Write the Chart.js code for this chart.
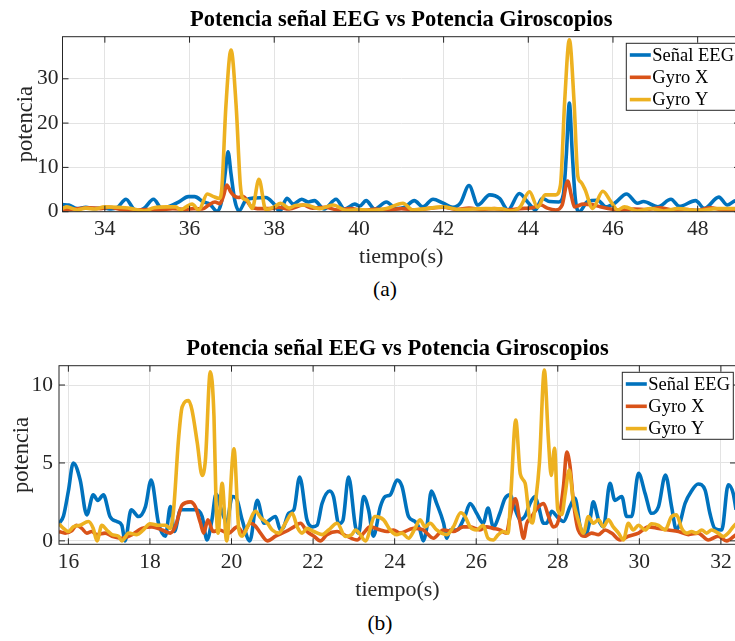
<!DOCTYPE html>
<html>
<head>
<meta charset="utf-8">
<script src="https://cdn.jsdelivr.net/npm/chart.js@4.4.1/dist/chart.umd.min.js"></script>
<style>
  html, body { margin: 0; padding: 0; background: #fff; overflow: hidden; }
  body { width: 735px; height: 641px; position: relative; }
  .panel { position: absolute; left: 0; width: 745px; }
  #panelA { top: 0; height: 272px; }
  #panelB { top: 320px; height: 282px; }
  .caption { position: absolute; width: 100px; text-align: center; font: 21.5px 'Liberation Serif', serif; line-height: 24px; color: #000; }
</style>
</head>
<body>
<div class="panel" id="panelA"><canvas id="chartA"></canvas></div>
<div class="panel" id="panelB"><canvas id="chartB"></canvas></div>
<div class="caption" style="left:335px; top:277px;">(a)</div>
<div class="caption" style="left:330px; top:611px;">(b)</div>
<script>
const seriesNames = ['Señal EEG', 'Gyro X', 'Gyro Y'];
const seriesColors = ['#0072BD', '#D95319', '#EDB120'];

// panel (a): 33 s - 49 s
const xTicksA = [34, 36, 38, 40, 42, 44, 46, 48];
const yTicksA = [0, 10, 20, 30];

const eegA = [[33.0,1.6],[33.15,1.5],[33.35,0.7],[33.55,1.0],[33.75,0.7],[33.95,0.9],[34.15,0.6],[34.3,1.0],[34.5,2.8],[34.68,0.6],[34.78,0.15],[34.92,0.7],[35.15,2.8],[35.35,0.7],[35.55,1.3],[35.75,2.2],[35.97,3.4],[36.12,3.4],[36.33,2.2],[36.48,1.7],[36.65,0.1],[36.76,2.5],[36.84,8.5],[36.91,13.5],[36.98,8.5],[37.07,2.5],[37.17,0.2],[37.33,2.6],[37.55,3.1],[37.8,3.2],[37.98,1.9],[38.13,0.1],[38.3,3.0],[38.45,1.7],[38.65,2.8],[38.8,2.2],[38.95,2.5],[39.18,0.6],[39.46,2.8],[39.66,0.6],[39.9,1.7],[40.02,1.3],[40.17,2.5],[40.37,0.6],[40.65,2.2],[40.88,0.7],[41.08,1.0],[41.31,2.5],[41.51,1.1],[41.75,2.8],[41.98,2.0],[42.22,1.0],[42.4,2.0],[42.6,5.9],[42.81,1.5],[43.09,3.8],[43.32,3.0],[43.52,0.4],[43.79,4.1],[44.0,2.0],[44.17,0.4],[44.33,3.0],[44.5,2.3],[44.72,2.2],[44.83,4.0],[44.9,13.0],[44.97,24.5],[45.04,13.0],[45.11,3.0],[45.2,0.0],[45.4,2.3],[45.64,2.6],[45.83,1.1],[46.05,2.0],[46.32,4.0],[46.58,1.9],[46.72,2.3],[47.06,1.1],[47.37,2.8],[47.57,1.2],[47.95,2.5],[48.16,0.75],[48.5,3.3],[48.7,1.5],[48.9,2.5],[49.0,2.2]];

const gyroXA = [[33.0,0.4],[33.3,0.6],[33.6,0.9],[33.9,0.7],[34.1,1.0],[34.4,0.5],[34.7,0.4],[35.0,0.5],[35.3,0.4],[35.6,0.7],[35.9,0.5],[36.1,0.7],[36.3,0.6],[36.45,1.5],[36.6,2.2],[36.72,1.8],[36.8,3.5],[36.88,6.0],[36.97,4.5],[37.05,3.6],[37.15,3.2],[37.27,3.4],[37.45,1.2],[37.6,0.7],[37.9,0.7],[38.1,1.0],[38.35,0.6],[38.68,1.5],[38.9,0.8],[39.2,1.0],[39.5,0.4],[39.8,0.7],[40.1,0.3],[40.4,0.6],[40.7,0.4],[41.0,0.7],[41.3,0.4],[41.6,0.7],[42.0,1.0],[42.3,0.5],[42.6,0.8],[42.9,0.5],[43.2,0.7],[43.5,0.4],[43.8,0.7],[44.1,0.9],[44.3,1.5],[44.45,0.8],[44.65,0.4],[44.8,1.5],[44.93,6.9],[45.02,3.5],[45.09,1.1],[45.3,1.7],[45.5,1.6],[45.7,1.1],[45.95,0.6],[46.2,0.4],[46.5,0.6],[46.8,0.5],[47.1,0.9],[47.4,0.4],[47.75,0.5],[48.0,0.3],[48.3,0.9],[48.6,0.4],[49.0,0.5]];

const gyroYA = [[33.0,0.75],[33.1,1.1],[33.35,0.4],[33.55,0.8],[33.75,0.6],[34.0,1.1],[34.3,1.0],[34.6,0.75],[34.92,0.15],[35.16,0.9],[35.47,1.1],[35.67,1.1],[35.79,0.4],[35.92,1.1],[36.06,1.7],[36.22,0.4],[36.42,4.0],[36.57,3.4],[36.7,3.0],[36.76,5.0],[36.86,24.0],[36.98,36.5],[37.1,24.0],[37.2,6.0],[37.26,3.0],[37.36,2.6],[37.48,0.75],[37.64,7.3],[37.8,0.5],[38.0,1.1],[38.15,1.9],[38.35,0.8],[38.5,1.4],[38.75,1.5],[39.07,0.7],[39.39,1.5],[39.7,0.3],[40.0,0.5],[40.33,0.3],[40.65,0.7],[41.04,1.9],[41.27,0.4],[41.6,0.7],[41.98,1.1],[42.38,0.5],[43.0,0.7],[43.4,0.6],[43.56,0.15],[43.8,1.0],[44.03,4.5],[44.22,1.0],[44.4,3.8],[44.65,3.8],[44.76,6.0],[44.86,25.0],[44.97,38.8],[45.08,25.0],[45.17,8.0],[45.24,6.7],[45.34,5.0],[45.52,0.75],[45.76,4.6],[45.95,2.3],[46.11,0.4],[46.27,1.1],[46.58,0.15],[46.9,0.7],[47.2,0.15],[47.53,0.7],[48.0,0.3],[48.47,0.7],[48.87,0.7],[49.0,0.6]];

// panel (b): 15.8 s - 32.4 s
const xTicksB = [16, 18, 20, 22, 24, 26, 28, 30, 32];
const yTicksB = [0, 5, 10];

const eegB = [[15.77,1.1],[15.88,1.6],[16.0,3.2],[16.12,5.0],[16.29,3.9],[16.45,1.67],[16.61,2.95],[16.72,2.6],[16.86,2.95],[17.02,1.56],[17.19,1.24],[17.31,1.0],[17.39,0.0],[17.54,2.0],[17.72,1.56],[17.89,2.2],[18.03,3.9],[18.21,1.13],[18.38,0.3],[18.5,2.2],[18.6,0.6],[18.75,2.0],[18.95,2.0],[19.11,2.0],[19.28,1.56],[19.4,0.06],[19.52,1.35],[19.62,3.0],[19.75,2.0],[19.88,1.2],[20.02,2.85],[20.14,2.6],[20.26,1.35],[20.45,0.0],[20.63,2.6],[20.8,1.13],[21.08,1.56],[21.2,0.7],[21.28,0.9],[21.4,1.77],[21.53,2.0],[21.67,4.1],[21.85,1.35],[21.98,0.9],[22.1,1.0],[22.22,2.4],[22.41,3.2],[22.5,2.85],[22.63,1.1],[22.73,1.3],[22.87,4.1],[23.04,0.9],[23.12,0.5],[23.24,2.85],[23.36,2.0],[23.48,0.3],[23.65,2.2],[23.77,2.85],[23.89,2.95],[24.06,3.9],[24.18,3.5],[24.34,1.56],[24.5,1.24],[24.62,0.7],[24.7,0.0],[24.79,0.9],[24.9,3.2],[25.03,2.4],[25.2,1.13],[25.28,0.17],[25.36,0.7],[25.52,0.7],[25.72,1.56],[25.85,2.4],[26.01,1.77],[26.17,1.13],[26.29,2.1],[26.42,0.9],[26.58,1.77],[26.7,2.7],[26.83,2.95],[26.96,2.0],[27.08,1.35],[27.2,1.6],[27.32,2.4],[27.44,2.85],[27.53,2.2],[27.65,1.13],[27.73,1.13],[27.85,1.9],[27.98,1.56],[28.14,1.24],[28.3,2.2],[28.42,2.75],[28.55,0.9],[28.67,0.3],[28.79,1.35],[28.87,2.5],[29.0,1.35],[29.12,0.9],[29.28,3.7],[29.4,2.6],[29.57,2.85],[29.69,1.56],[29.81,1.56],[29.98,4.34],[30.14,3.05],[30.3,1.77],[30.47,2.2],[30.64,4.23],[30.79,2.2],[30.91,0.7],[30.99,1.1],[31.12,2.4],[31.28,3.2],[31.44,3.65],[31.61,3.27],[31.73,1.77],[31.85,0.8],[32.02,0.7],[32.18,3.6],[32.3,3.05],[32.37,2.0]];

const gyroXB = [[15.77,0.6],[15.92,0.5],[16.08,0.65],[16.2,1.0],[16.33,0.8],[16.45,0.5],[16.57,0.6],[16.7,0.4],[16.9,0.5],[17.07,0.3],[17.31,0.17],[17.56,0.4],[17.8,0.8],[18.05,0.9],[18.3,0.7],[18.5,0.5],[18.62,0.9],[18.79,2.3],[18.99,2.5],[19.11,2.2],[19.24,1.13],[19.32,0.5],[19.42,1.35],[19.55,0.6],[19.7,0.7],[19.93,0.5],[20.14,0.9],[20.3,0.5],[20.45,1.13],[20.57,1.0],[20.71,0.5],[20.88,0.0],[21.08,0.3],[21.33,0.6],[21.53,0.9],[21.69,1.13],[21.85,0.6],[22.02,0.3],[22.18,0.0],[22.34,0.4],[22.59,0.6],[22.83,0.3],[23.08,0.06],[23.24,0.5],[23.4,0.9],[23.65,0.7],[23.81,0.6],[23.97,0.7],[24.13,0.5],[24.46,0.8],[24.7,0.7],[24.95,0.17],[25.19,0.7],[25.44,0.6],[25.68,0.9],[25.85,0.9],[26.09,0.7],[26.25,0.9],[26.42,0.8],[26.58,0.7],[26.74,0.5],[26.83,1.56],[26.96,2.7],[27.08,1.1],[27.16,0.17],[27.24,1.13],[27.36,1.56],[27.53,2.2],[27.65,2.4],[27.77,1.6],[27.89,0.9],[28.02,1.35],[28.14,3.5],[28.22,5.7],[28.3,4.8],[28.38,2.6],[28.5,0.7],[28.67,0.3],[28.83,0.5],[29.0,0.4],[29.16,0.7],[29.32,0.5],[29.53,0.06],[29.73,0.3],[29.98,0.5],[30.22,0.9],[30.47,0.8],[30.71,0.7],[30.96,0.6],[31.2,0.4],[31.44,0.5],[31.69,0.06],[31.93,0.3],[32.14,0.0],[32.37,0.4]];

const gyroYB = [[15.77,1.1],[15.88,0.8],[16.0,0.6],[16.12,0.9],[16.29,1.0],[16.49,1.24],[16.61,0.8],[16.7,0.0],[16.82,1.0],[16.94,0.7],[17.07,0.4],[17.23,0.3],[17.31,0.0],[17.48,0.5],[17.68,0.4],[17.84,0.7],[18.0,1.1],[18.21,1.0],[18.38,1.0],[18.5,0.8],[18.58,2.0],[18.7,6.5],[18.79,8.6],[18.95,9.0],[19.03,8.4],[19.16,6.3],[19.28,4.2],[19.36,5.2],[19.48,10.85],[19.57,8.0],[19.62,2.5],[19.67,0.5],[19.77,3.7],[19.88,0.0],[20.06,5.9],[20.18,0.7],[20.26,0.3],[20.39,0.9],[20.59,1.9],[20.71,1.5],[20.88,1.13],[21.0,0.7],[21.16,0.5],[21.32,1.13],[21.49,1.77],[21.61,0.9],[21.73,0.5],[21.85,0.8],[22.02,0.6],[22.22,0.4],[22.38,0.7],[22.59,1.13],[22.79,0.28],[22.95,0.4],[23.04,0.7],[23.16,0.4],[23.28,0.0],[23.52,1.56],[23.73,1.35],[23.89,0.7],[24.05,0.4],[24.18,0.5],[24.34,0.17],[24.5,0.8],[24.62,1.35],[24.75,0.9],[24.87,1.13],[25.03,0.7],[25.15,0.5],[25.28,0.4],[25.44,0.9],[25.62,1.8],[25.72,1.6],[25.85,0.9],[26.01,0.7],[26.17,1.0],[26.29,0.17],[26.42,0.06],[26.54,0.4],[26.66,0.6],[26.78,0.5],[26.85,3.0],[26.97,7.75],[27.08,4.3],[27.2,3.7],[27.3,1.56],[27.38,1.15],[27.45,2.4],[27.55,5.0],[27.67,10.96],[27.77,6.5],[27.84,4.2],[27.92,5.94],[28.0,2.0],[28.1,1.7],[28.18,3.0],[28.28,4.55],[28.38,2.6],[28.5,1.35],[28.63,0.5],[28.75,1.56],[28.87,1.13],[29.0,1.35],[29.12,0.9],[29.24,1.35],[29.36,0.9],[29.49,0.5],[29.61,0.06],[29.73,1.13],[29.85,0.7],[29.98,1.0],[30.14,0.7],[30.3,1.1],[30.47,1.0],[30.63,0.7],[30.79,1.56],[30.91,1.67],[31.04,0.8],[31.16,0.5],[31.28,0.6],[31.4,0.5],[31.53,0.7],[31.65,0.5],[31.77,0.7],[31.93,0.5],[32.06,0.28],[32.18,0.5],[32.3,0.9],[32.37,1.1]];

const FONT = "'Liberation Serif', 'Times New Roman', serif";
const AXIS_INK = '#262626';
const LINE_W = 3.6;

// box, inward ticks, title, axis labels and legend drawn the MATLAB way
const figureDecor = {
  id: 'figureDecor',
  afterDraw(chart, args, o) {
    const { ctx, chartArea: a, scales: { x, y } } = chart;
    const cx = (a.left + a.right) / 2;
    ctx.save();

    ctx.strokeStyle = AXIS_INK;
    ctx.lineWidth = 1;
    ctx.beginPath();
    x.ticks.forEach(t => {
      const px = x.getPixelForValue(t.value);
      ctx.moveTo(px, a.top); ctx.lineTo(px, a.top + 6);
      ctx.moveTo(px, a.bottom); ctx.lineTo(px, a.bottom - 6);
    });
    y.ticks.forEach(t => {
      const py = y.getPixelForValue(t.value);
      ctx.moveTo(a.left, py); ctx.lineTo(a.left + 6, py);
      ctx.moveTo(a.right, py); ctx.lineTo(a.right - 6, py);
    });
    ctx.stroke();
    ctx.strokeRect(a.left, a.top, a.right - a.left, a.bottom - a.top);

    ctx.textAlign = 'center';
    ctx.textBaseline = 'alphabetic';
    ctx.fillStyle = '#000';
    ctx.font = 'bold 22.5px ' + FONT;
    ctx.fillText(o.title, cx, o.titleY);

    ctx.fillStyle = AXIS_INK;
    ctx.font = '22px ' + FONT;
    ctx.fillText('tiempo(s)', cx, o.xLabelY);
    ctx.save();
    ctx.translate(o.yLabelX, (a.top + a.bottom) / 2);
    ctx.rotate(-Math.PI / 2);
    ctx.textBaseline = 'middle';
    ctx.font = '22.5px ' + FONT;
    ctx.fillText('potencia', 0, 0);
    ctx.restore();

    // legend box
    const bw = 111, bh = 67;
    const bx = a.right - 2.7 - bw, by = a.top + 6.6;
    ctx.fillStyle = '#fff';
    ctx.fillRect(bx, by, bw, bh);
    ctx.strokeStyle = AXIS_INK;
    ctx.lineWidth = 1;
    ctx.strokeRect(bx, by, bw, bh);
    ctx.font = '18.5px ' + FONT;
    ctx.textAlign = 'left';
    ctx.textBaseline = 'middle';
    chart.data.datasets.forEach((ds, i) => {
      const ly = by + 11.7 + i * 22.3;
      ctx.strokeStyle = ds.borderColor;
      ctx.lineWidth = LINE_W;
      ctx.beginPath();
      ctx.moveTo(bx + 3.5, ly);
      ctx.lineTo(bx + 24.5, ly);
      ctx.stroke();
      ctx.fillStyle = '#000';
      ctx.fillText(ds.label, bx + 26, ly + 1);
    });
    ctx.restore();
  }
};

function makeDatasets(series) {
  return series.map((pts, i) => ({
    label: seriesNames[i],
    data: pts.map(([t, v]) => ({ x: t, y: v })),
    borderColor: seriesColors[i],
    borderWidth: LINE_W,
    pointRadius: 0,
    cubicInterpolationMode: 'monotone',
    order: 3 - i
  }));
}

function makeChart(id, cfg) {
  const tickFont = { family: FONT, size: 21.5 };
  return new Chart(document.getElementById(id), {
    type: 'line',
    data: { datasets: makeDatasets(cfg.series) },
    options: {
      responsive: true,
      maintainAspectRatio: false,
      animation: false,
      layout: { padding: cfg.padding },
      plugins: {
        legend: { display: false },
        tooltip: { enabled: false },
        figureDecor: cfg.decor
      },
      scales: {
        x: {
          type: 'linear',
          min: cfg.xMin, max: cfg.xMax,
          afterBuildTicks: s => { s.ticks = cfg.xTicks.map(v => ({ value: v })); },
          afterFit: s => { s.height = 30; },
          grid: { color: '#e3e3e3', drawTicks: false },
          border: { display: false },
          ticks: { color: AXIS_INK, font: tickFont, padding: 5, maxRotation: 0, autoSkip: false }
        },
        y: {
          min: cfg.yMin, max: cfg.yMax,
          afterBuildTicks: s => { s.ticks = cfg.yTicks.map(v => ({ value: v })); },
          afterFit: s => { s.width = cfg.yWidth; },
          grid: { color: '#e3e3e3', drawTicks: false },
          border: { display: false },
          ticks: { color: AXIS_INK, font: tickFont, padding: cfg.yPad }
        }
      }
    },
    plugins: [figureDecor]
  });
}

makeChart('chartA', {
  series: [eegA, gyroXA, gyroYA],
  xMin: 33, xMax: 49, xTicks: xTicksA,
  yMin: 0, yMax: 39.5, yTicks: yTicksA,
  yWidth: 62.5, yPad: 4,
  padding: { top: 36.7, right: 5, bottom: 30.3, left: 0 },
  decor: { title: 'Potencia señal EEG vs Potencia Giroscopios', titleY: 26, xLabelY: 263, yLabelX: 26 }
});

makeChart('chartB', {
  series: [eegB, gyroXB, gyroYB],
  xMin: 15.77, xMax: 32.37, xTicks: xTicksB,
  yMin: -0.22, yMax: 11.24, yTicks: yTicksB,
  yWidth: 59, yPad: 6,
  padding: { top: 45.7, right: 9, bottom: 27.7, left: 0 },
  decor: { title: 'Potencia señal EEG vs Potencia Giroscopios', titleY: 35, xLabelY: 276, yLabelX: 22.5 }
});
</script>
</body>
</html>
